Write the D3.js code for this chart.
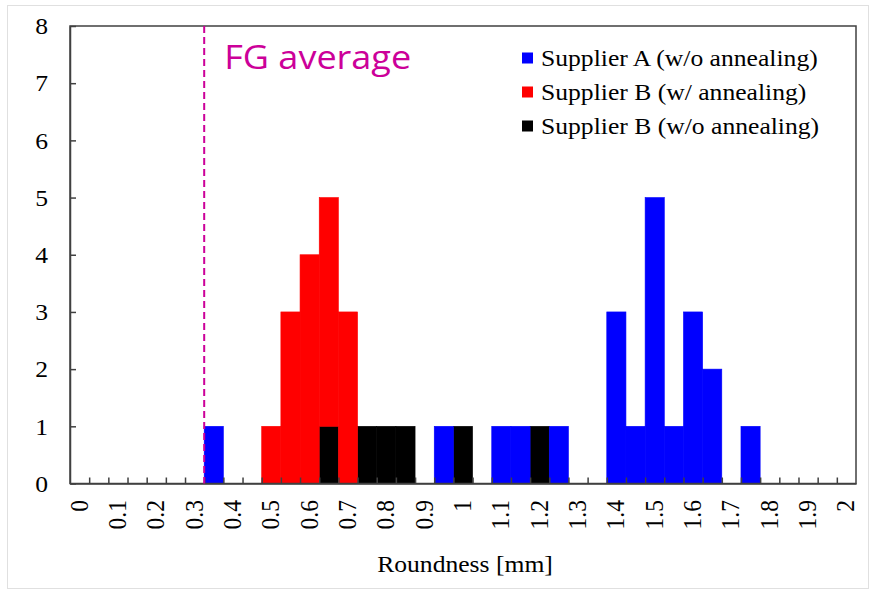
<!DOCTYPE html>
<html>
<head>
<meta charset="utf-8">
<script src="https://cdn.jsdelivr.net/npm/d3@7"></script>
<style>
  html, body { margin: 0; padding: 0; background: #fff; }
  svg { display: block; }
  .serif { font-family: "Liberation Serif", "DejaVu Serif", "Times New Roman", Times, serif; }
</style>
</head>
<body>
<svg id="chart" width="875" height="593"></svg>
<script>
// ---- Data ----
const categories = [0,0.05,0.1,0.15,0.2,0.25,0.3,0.35,0.4,0.45,0.5,0.55,0.6,0.65,0.7,0.75,0.8,0.85,0.9,0.95,
  1,1.05,1.1,1.15,1.2,1.25,1.3,1.35,1.4,1.45,1.5,1.55,1.6,1.65,1.7,1.75,1.8,1.85,1.9,1.95,2];
const supplierA_woAnneal = [0,0,0,0,0,0,0,1,0,0,0,0,0,0,0,0,0,0,0,1,
  0,0,1,1,0,1,0,0,3,1,5,1,3,2,0,1,0,0,0,0,0];
const supplierB_wAnneal = [0,0,0,0,0,0,0,0,0,0,1,3,4,4,3,0,0,0,0,0,
  0,0,0,0,0,0,0,0,0,0,0,0,0,0,0,0,0,0,0,0,0];
const supplierB_woAnneal = [0,0,0,0,0,0,0,0,0,0,0,0,0,1,0,1,1,1,0,0,
  1,0,0,0,1,0,0,0,0,0,0,0,0,0,0,0,0,0,0,0,0];
const seriesNames = ["Supplier A (w/o annealing)", "Supplier B (w/ annealing)", "Supplier B (w/o annealing)"];
const seriesColors = ["#0000ff", "#ff0000", "#000000"];
const xTickLabels = [0,0.1,0.2,0.3,0.4,0.5,0.6,0.7,0.8,0.9,1,1.1,1.2,1.3,1.4,1.5,1.6,1.7,1.8,1.9,2];
const yTicks = [0,1,2,3,4,5,6,7,8];
const fgAverage = 0.325;
const binWidth = 0.05;

(function () {
// ---- Layout ----
const svg = d3.select("#chart");
const pLeft = 70, pRight = 856, pTop = 26, pBottom = 483.5;
const axisColor = "#404040";
const sx = 1.09;   // horizontal stretch of the text in the reference
const fs = 23.5;

// outer frame
svg.append("rect").attr("x", 7.5).attr("y", 5.5).attr("width", 861).attr("height", 583)
  .attr("fill", "#fff").attr("stroke", "#e0e0e0").attr("stroke-width", 1);

const x = d3.scaleLinear().domain([categories[0] - binWidth / 2, categories[categories.length - 1] + binWidth / 2]).range([pLeft, pRight]);
const y = d3.scaleLinear().domain([0, 8]).range([pBottom, pTop]);

// stacked data: bottom black, red, blue top
const rows = categories.map((c, i) => ({
  c: c,
  bwo: supplierB_woAnneal[i],
  bw: supplierB_wAnneal[i],
  a: supplierA_woAnneal[i]
}));
const stacked = d3.stack().keys(["bwo", "bw", "a"])(rows);
const keyColor = { bwo: seriesColors[2], bw: seriesColors[1], a: seriesColors[0] };

const g = svg.append("g");
stacked.forEach(layer => {
  g.append("g").selectAll("rect")
    .data(layer.filter(d => d[1] > d[0]))
    .join("rect")
    .attr("x", d => x(d.data.c - binWidth / 2))
    .attr("width", d => x(d.data.c + binWidth / 2) - x(d.data.c - binWidth / 2))
    .attr("y", d => y(d[1]))
    .attr("height", d => y(d[0]) - y(d[1]))
    .attr("fill", keyColor[layer.key])
    .attr("stroke", keyColor[layer.key])
    .attr("stroke-width", 0.6);
});

// plot frame
svg.append("rect").attr("x", pLeft).attr("y", pTop).attr("width", pRight - pLeft).attr("height", pBottom - pTop)
  .attr("fill", "none").attr("stroke", axisColor).attr("stroke-width", 1.5);

// x axis: ticks at bin boundaries (inward), labels every 0.1
const boundaries = categories.slice(0, -1).map(c => c + binWidth / 2);
const xAxis = d3.axisBottom(x).tickValues(boundaries).tickSizeInner(-6).tickSizeOuter(0).tickFormat("");
const gx = svg.append("g").attr("transform", `translate(0,${pBottom})`).call(xAxis);
gx.select(".domain").attr("stroke", axisColor).attr("stroke-width", 1.5);
gx.selectAll(".tick line").attr("stroke", axisColor).attr("stroke-width", 1.5);

svg.append("g").selectAll("text")
  .data(xTickLabels)
  .join("text")
  .attr("class", "serif")
  .attr("transform", d => `translate(${x(d) - 1},500) scale(${sx},1) rotate(-90)`)
  .attr("text-anchor", "end")
  .attr("dy", "0.35em")
  .attr("font-size", fs)
  .attr("fill", "#000")
  .text(d => d3.format("~g")(d));

// y axis
const yAxis = d3.axisLeft(y).tickValues(yTicks).tickSizeInner(-6).tickSizeOuter(0).tickFormat("");
const gy = svg.append("g").attr("transform", `translate(${pLeft},0)`).call(yAxis);
gy.select(".domain").attr("stroke", axisColor).attr("stroke-width", 1.5);
gy.selectAll(".tick line").attr("stroke", axisColor).attr("stroke-width", 1.5);

svg.append("g").selectAll("text")
  .data(yTicks)
  .join("text")
  .attr("class", "serif")
  .attr("transform", d => `translate(48,${y(d)}) scale(${sx},1)`)
  .attr("text-anchor", "end")
  .attr("dy", "0.35em")
  .attr("font-size", fs)
  .attr("fill", "#000")
  .text(d => d3.format("d")(d));

// axis title
svg.append("text").attr("class", "serif")
  .attr("transform", `translate(${(pLeft + pRight) / 2 + 2},572) scale(${sx},1)`)
  .attr("text-anchor", "middle").attr("font-size", fs).attr("fill", "#000")
  .text("Roundness [mm]");

// FG average line
svg.append("line").attr("x1", x(fgAverage)).attr("x2", x(fgAverage)).attr("y1", pTop).attr("y2", pBottom)
  .attr("stroke", "#cc0099").attr("stroke-width", 2).attr("stroke-dasharray", "7,4");
svg.append("text").attr("x", x(fgAverage) + 20).attr("y", 69)
  .style("font-family", "'Open Sans', 'Liberation Sans', sans-serif").attr("font-size", 33.5)
  .attr("textLength", 187).attr("lengthAdjust", "spacingAndGlyphs")
  .attr("fill", "#cc0099").text("FG average");

// legend
const legend = svg.append("g");
seriesNames.forEach((name, i) => {
  const ly = 58 + i * 34;
  legend.append("rect").attr("x", 522).attr("y", ly - 5.5).attr("width", 11).attr("height", 11)
    .attr("fill", seriesColors[i]);
  legend.append("text").attr("class", "serif")
    .attr("transform", `translate(541,${ly}) scale(${sx},1)`)
    .attr("dy", "0.35em")
    .attr("font-size", fs).attr("fill", "#000").text(name);
});
})();
</script>
</body>
</html>
